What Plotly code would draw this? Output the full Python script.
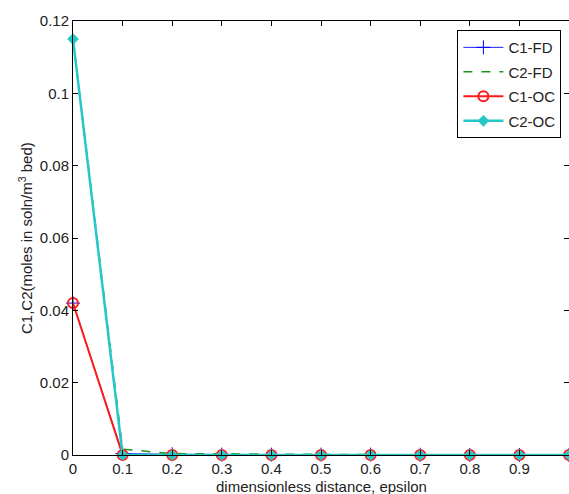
import plotly.graph_objects as go

eps = [0, 0.1, 0.2, 0.3, 0.4, 0.5, 0.6, 0.7, 0.8, 0.9, 1.0]
c1_fd = [0.042, 0.0004, 0.0002, 0.0001, 0.0001, 0.0001, 0.0001, 0.00005, 0.0, 0.0, 0.0]
c2_fd = [0.115, 0.0016, 0.0004, 0.0003, 0.0002, 0.0002, 0.0001, 0.0001, 0.0, 0.0, 0.0]
c1_oc = [0.042, 0.0, 0.0, 0.0, 0.0, 0.0, 0.0, 0.0, 0.0, 0.0, 0.0]
c2_oc = [0.115, 0.0, 0.0, 0.0, 0.0, 0.0, 0.0, 0.0, 0.0, 0.0, 0.0]
x_ticks = [0, 0.1, 0.2, 0.3, 0.4, 0.5, 0.6, 0.7, 0.8, 0.9, 1]
x_labels = ["0", "0.1", "0.2", "0.3", "0.4", "0.5", "0.6", "0.7", "0.8", "0.9", "1"]
y_ticks = [0, 0.02, 0.04, 0.06, 0.08, 0.1, 0.12]
y_labels = ["0", "0.02", "0.04", "0.06", "0.08", "0.1", "0.12"]

FONT = "Liberation Sans, Arial, sans-serif"
FS = 15

fig = go.Figure()
fig.add_trace(go.Scatter(x=eps, y=c1_fd, name="C1-FD", mode="lines+markers", legendgroup="a",
                         line=dict(color="#2020ff", width=1),
                         marker=dict(symbol="cross-thin", size=10, line=dict(color="#0000ff", width=1)),
                         cliponaxis=False))
fig.add_trace(go.Scatter(x=eps, y=c2_fd, name="C2-FD", mode="lines", legendgroup="b",
                         line=dict(color="#1a961a", width=1.5, dash="dash"), cliponaxis=False))
fig.add_trace(go.Scatter(x=eps, y=c1_oc, name="C1-OC", mode="lines+markers", legendgroup="c",
                         line=dict(color="#ff1a1a", width=2),
                         marker=dict(symbol="circle-open", size=10, line=dict(color="#ff1a1a", width=2)),
                         cliponaxis=False))
fig.add_trace(go.Scatter(x=eps, y=c2_oc, name="C2-OC", mode="lines+markers", legendgroup="d",
                         line=dict(color="#25c8c8", width=2.5),
                         marker=dict(symbol="diamond", size=9, color="#25c8c8"),
                         cliponaxis=False))

axis_common = dict(showgrid=False, zeroline=False, showline=True, linecolor="black", linewidth=1,
                   mirror="ticks", ticks="inside", ticklen=5, tickcolor="black", automargin=False,
                   tickfont=dict(family=FONT, size=FS, color="#222"))
fig.update_layout(
    width=569, height=494,
    margin=dict(l=73, r=0, t=21, b=39, autoexpand=False),
    paper_bgcolor="white", plot_bgcolor="white",
    xaxis=dict(range=[0, 1], tickvals=x_ticks, ticktext=x_labels, **axis_common),
    yaxis=dict(range=[0, 0.12], tickvals=y_ticks, ticktext=y_labels, **axis_common),
    legend=dict(x=0.775, y=0.979, xanchor="left", yanchor="top",
                bordercolor="black", borderwidth=1, bgcolor="white",
                font=dict(family=FONT, size=FS, color="#222"),
                tracegroupgap=2, itemwidth=40),
    showlegend=True,
    annotations=[
        dict(text="dimensionless distance, epsilon", xref="paper", yref="paper",
             x=0.5, y=0, yshift=-31, xanchor="center", yanchor="middle", showarrow=False,
             font=dict(family=FONT, size=FS, color="#222")),
        dict(text="C1,C2(moles in soln/m<sup>3</sup> bed)", xref="paper", yref="paper",
             x=0, y=0.5, xshift=-48, xanchor="center", yanchor="middle", textangle=-90,
             showarrow=False, font=dict(family=FONT, size=FS, color="#222")),
    ],
)
fig.write_html("out.html", config={"displayModeBar": False},
               post_script="document.body.style.margin='0';document.body.style.overflow='hidden';")
